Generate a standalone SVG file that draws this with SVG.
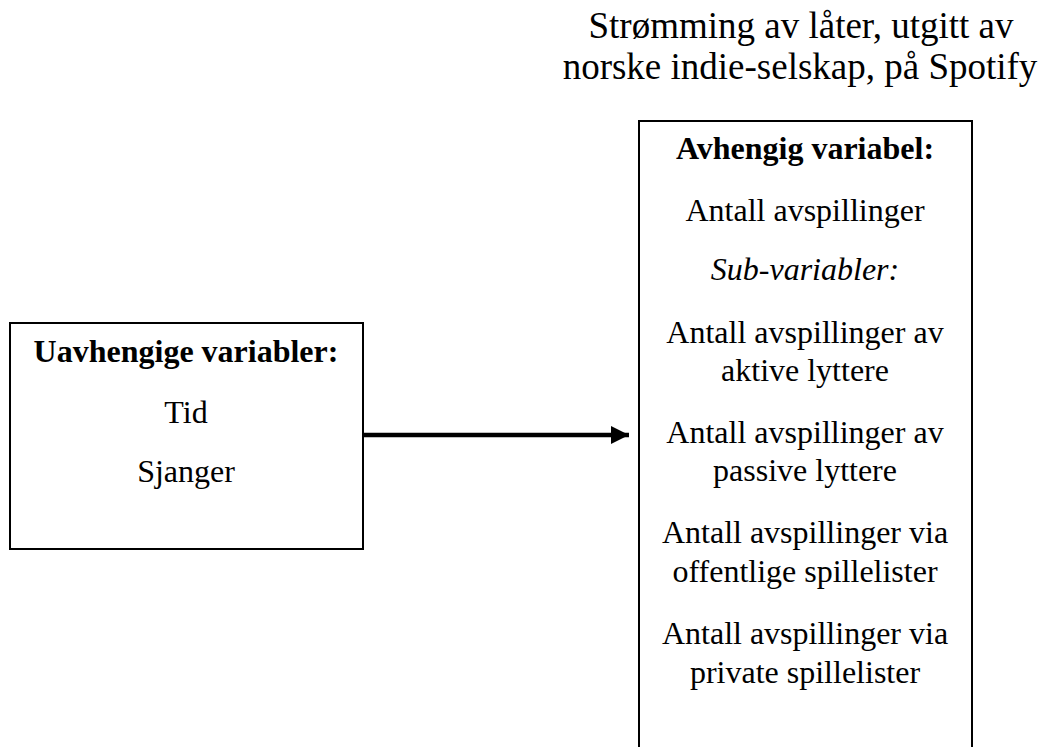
<svg xmlns="http://www.w3.org/2000/svg" width="1046" height="747" viewBox="0 0 1046 747">
<style>
text{font-family:"Liberation Serif","Times New Roman",serif;fill:#000;text-anchor:middle;font-size:32px}
.b{font-weight:bold}
.i{font-style:italic}
.t{font-size:37px}
.box{fill:#fff;stroke:#000;stroke-width:2}
</style>
<defs>
<marker id="ah" markerWidth="4" markerHeight="4" refX="4" refY="2" orient="auto" markerUnits="strokeWidth">
<path d="M0,0 L4,2 L0,4 z" fill="#000"/>
</marker>
</defs>
<rect width="1046" height="747" fill="#fff"/>
<g id="title">
<text class="t" x="801" y="38">Strømming av låter, utgitt av</text>
<text class="t" x="800" y="79">norske indie-selskap, på Spotify</text>
</g>
<g id="independent">
<rect class="box" x="10" y="323" width="353" height="226"/>
<text class="b" x="186" y="362">Uavhengige variabler:</text>
<text x="186" y="423">Tid</text>
<text x="186" y="482">Sjanger</text>
</g>
<g id="dependent">
<rect class="box" x="639" y="121" width="333" height="640"/>
<text class="b" x="805" y="159">Avhengig variabel:</text>
<text x="805" y="221">Antall avspillinger</text>
<text class="i" x="805" y="280">Sub-variabler:</text>
<text x="805" y="343">Antall avspillinger av</text>
<text x="805" y="381">aktive lyttere</text>
<text x="805" y="443">Antall avspillinger av</text>
<text x="805" y="481">passive lyttere</text>
<text x="805" y="543">Antall avspillinger via</text>
<text x="805" y="582">offentlige spillelister</text>
<text x="805" y="644">Antall avspillinger via</text>
<text x="805" y="683">private spillelister</text>
</g>
<g id="connectors">
<line x1="364" y1="435" x2="629" y2="435" stroke="#000" stroke-width="4.5" marker-end="url(#ah)"/>
</g>
</svg>
